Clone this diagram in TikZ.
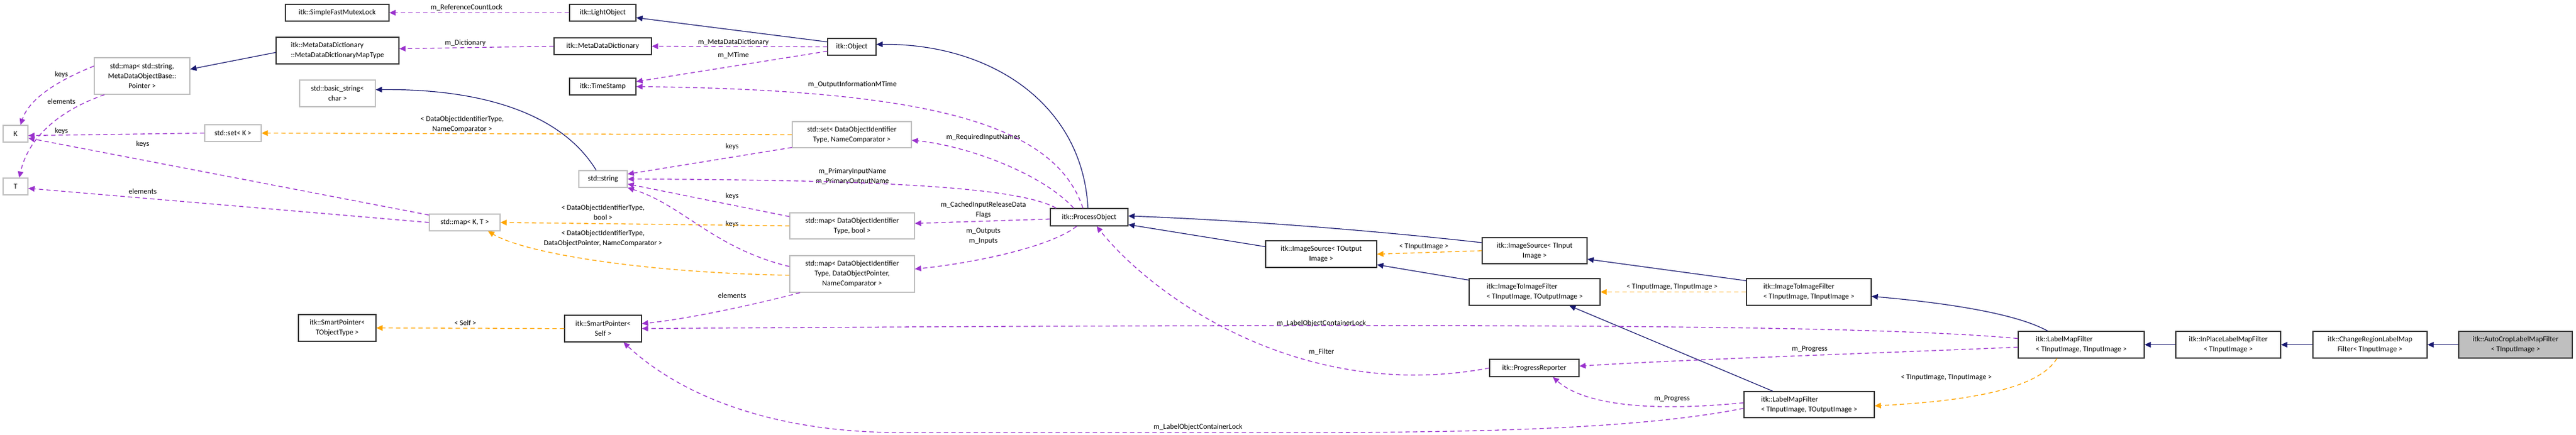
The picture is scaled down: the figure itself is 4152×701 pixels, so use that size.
\documentclass[tikz,border=0pt]{standalone}
\usepackage{fontspec}
\setmainfont{Carlito}
\usetikzlibrary{arrows.meta,calc}
\definecolor{inhc}{HTML}{191970}
\definecolor{usec}{HTML}{9A32CD}
\definecolor{tplc}{HTML}{FFA500}
\definecolor{grayb}{HTML}{BFBFBF}
\tikzset{
  x=1pt,y=-1pt,
  every node/.style={font=\fontsize{12}{16}\selectfont},
  box/.style={draw=black!80,line width=1.3pt,fill=white,inner sep=0pt,align=center},
  gbox/.style={draw=grayb,line width=1.3pt,fill=white,inner sep=0pt,align=center},
  lbl/.style={inner sep=0pt,align=center},
  inh/.style={draw=inhc,line width=1.2pt,-{Triangle[length=10pt,width=9pt]}},
  usep/.style={draw=usec,line width=1.3pt,dash pattern=on 7pt off 5pt,-{Triangle[length=10pt,width=9pt,fill=usec]}},
  tpl/.style={draw=tplc,line width=1.3pt,dash pattern=on 7pt off 5pt,-{Triangle[length=10pt,width=9pt,fill=tplc]}},
}
\begin{document}
\begin{tikzpicture}
\useasboundingbox (0,0) rectangle (4152,701);
% nodes
\node[box,minimum width=167,minimum height=27] (sfml) at (543.5,20.5) {itk::SimpleFastMutexLock};
\node[box,minimum width=198,minimum height=43,align=left] (maptype) at (544,81.5) {itk::MetaDataDictionary\\::MetaDataDictionaryMapType};
\node[gbox,minimum width=154,minimum height=59] (mapstr) at (229,122.5) {std::map< std::string,\\ MetaDataObjectBase::\\Pointer >};
\node[gbox,minimum width=122,minimum height=43] (bstr) at (544,150.5) {std::basic\_string<\\char >};
\node[gbox,minimum width=40,minimum height=27] (K) at (25,215.5) {K};
\node[gbox,minimum width=40,minimum height=27] (T) at (25,300.5) {T};
\node[gbox,minimum width=91,minimum height=27] (setK) at (375.5,214.5) {std::set< K >};
\node[box,minimum width=125,minimum height=43] (spT) at (543.5,528.5) {itk::SmartPointer<\\TObjectType >};
\node[box,minimum width=107,minimum height=27] (light) at (971.5,20.5) {itk::LightObject};
\node[box,minimum width=157,minimum height=27] (mdd) at (971.5,74.5) {itk::MetaDataDictionary};
\node[box,minimum width=107,minimum height=27] (ts) at (971.5,139.5) {itk::TimeStamp};
\node[box,minimum width=78,minimum height=27] (obj) at (1373,75.5) {itk::Object};
\node[gbox,minimum width=78,minimum height=27] (str) at (972,288.5) {std::string};
\node[gbox,minimum width=192,minimum height=42] (setDOI) at (1373,217) {std::set< DataObjectIdentifier\\Type, NameComparator >};
\node[gbox,minimum width=114,minimum height=27] (mapKT) at (749,358.5) {std::map< K, T >};
\node[gbox,minimum width=201,minimum height=42] (mapB) at (1373.5,364) {std::map< DataObjectIdentifier\\Type, bool >};
\node[gbox,minimum width=201,minimum height=59] (mapP) at (1373.5,441.5) {std::map< DataObjectIdentifier\\Type, DataObjectPointer,\\ NameComparator >};
\node[box,minimum width=124,minimum height=43] (spS) at (972,529.5) {itk::SmartPointer<\\Self >};
\node[box,minimum width=125,minimum height=28] (po) at (1755.5,350) {itk::ProcessObject};
\node[box,minimum width=179,minimum height=43] (isO) at (2129.5,409.5) {itk::ImageSource< TOutput\\Image >};
\node[box,minimum width=169,minimum height=42] (isI) at (2473.5,404) {itk::ImageSource< TInput\\Image >};
\node[box,minimum width=211,minimum height=43,align=left] (itiO) at (2473.5,470.5) {itk::ImageToImageFilter\\< TInputImage, TOutputImage >};
\node[box,minimum width=201,minimum height=43,align=left] (itiI) at (2915.5,470.5) {itk::ImageToImageFilter\\< TInputImage, TInputImage >};
\node[box,minimum width=144,minimum height=28] (pr) at (2473,593) {itk::ProgressReporter};
\node[box,minimum width=210,minimum height=42,align=left] (lmO) at (2916,652) {itk::LabelMapFilter\\< TInputImage, TOutputImage >};
\node[box,minimum width=203,minimum height=43,align=left] (lmI) at (3354.5,555.5) {itk::LabelMapFilter\\< TInputImage, TInputImage >};
\node[box,minimum width=169,minimum height=43] (ip) at (3591.5,555.5) {itk::InPlaceLabelMapFilter\\< TInputImage >};
\node[box,minimum width=184,minimum height=43] (cr) at (3820,555.5) {itk::ChangeRegionLabelMap\\Filter< TInputImage >};
\node[box,fill=grayb,minimum width=183,minimum height=43] (ac) at (4054.5,555.5) {itk::AutoCropLabelMapFilter\\< TInputImage >};
% labels
\node[lbl] (l1) at (752,12) {m\_ReferenceCountLock};
\node[lbl] (l2) at (750,69) {m\_Dictionary};
\node[lbl] (l3) at (1182,68) {m\_MetaDataDictionary};
\node[lbl] (l4) at (1182,89) {m\_MTime};
\node[lbl] (l5) at (1374,136) {m\_OutputInformationMTime};
\node[lbl] (l6) at (1585,221) {m\_RequiredInputNames};
\node[lbl] (l7) at (99,120) {keys};
\node[lbl] (l8) at (99,163) {elements};
\node[lbl] (l9) at (99,211) {keys};
\node[lbl] (l10) at (230,232) {keys};
\node[lbl] (l11) at (230,308) {elements};
\node[lbl] (l12) at (745,200) {< DataObjectIdentifierType,\\NameComparator >};
\node[lbl] (l13) at (1180,236) {keys};
\node[lbl] (l14) at (1374,284) {m\_PrimaryInputName\\m\_PrimaryOutputName};
\node[lbl] (l15) at (1180,316) {keys};
\node[lbl] (l16) at (972,342) {< DataObjectIdentifierType,\\bool >};
\node[lbl] (l17) at (1180,361) {keys};
\node[lbl] (l18) at (972,384) {< DataObjectIdentifierType,\\DataObjectPointer, NameComparator >};
\node[lbl] (l19) at (1180,476) {elements};
\node[lbl] (l20) at (750,520) {< Self >};
\node[lbl] (l21) at (1585,338) {m\_CachedInputReleaseData\\Flags};
\node[lbl] (l22) at (1585,381) {m\_Outputs\\m\_Inputs};
\node[lbl] (l23) at (2295,398) {< TInputImage >};
\node[lbl] (l24) at (2695,463) {< TInputImage, TInputImage >};
\node[lbl] (l25) at (2130,521) {m\_LabelObjectContainerLock};
\node[lbl] (l26) at (2130,567) {m\_Filter};
\node[lbl] (l27) at (2917,563) {m\_Progress};
\node[lbl] (l28) at (2695,643) {m\_Progress};
\node[lbl] (l29) at (1931,688) {m\_LabelObjectContainerLock};
\node[lbl] (l30) at (3137,609) {< TInputImage, TInputImage >};
% edges
\draw[usep] (light.west) -- (sfml.east);
\draw[usep] (mdd.west) -- ($(maptype.east)+(0,-3)$);
\draw[inh] ($(maptype.west)+(0,3)$) -- ($(mapstr.east)+(0,-11)$);
\draw[usep] ($(mapstr.west)+(0,-16)$) .. controls (80,135) and (45,165) .. ($(K.north)+(8,0)$);
\draw[usep] ($(mapstr.south west)+(17,0)$) .. controls (90,180) and (45,225) .. ($(T.north)+(6,0)$);
\draw[usep] (setK.west) -- ($(K.east)+(0,3)$);
\draw[usep] ($(mapKT.west)+(0,-12)$) -- ($(K.east)+(0,7)$);
\draw[usep] (mapKT.west) -- ($(T.east)+(0,3)$);
\draw[inh] ($(obj.west)+(0,-8)$) -- ($(light.east)+(0,8)$);
\draw[usep] (obj.west) -- (mdd.east);
\draw[usep] ($(obj.west)+(0,7)$) -- ($(ts.east)+(0,-8)$);
\draw[inh] ($(str.north)+(-11,0)$) .. controls (900,175) and (760,143) .. ($(bstr.east)+(0,-6)$);
\draw[tpl] (setDOI.west) -- (setK.east);
\draw[usep] ($(setDOI.south west)+(0,-1)$) -- ($(str.east)+(0,-8)$);
\draw[usep] ($(mapB.west)+(0,-15)$) -- ($(str.east)+(0,8)$);
\draw[tpl] (mapB.west) -- (mapKT.east);
\draw[usep] ($(mapP.west)+(0,-12)$) .. controls (1150,400) and (1100,330) .. ($(str.south east)+(0,0)$);
\draw[tpl] ($(mapP.west)+(0,2)$) .. controls (1050,440) and (850,410) .. ($(mapKT.south east)+(-20,0)$);
\draw[usep] ($(mapP.south west)+(17,0)$) .. controls (1200,495) and (1100,515) .. ($(spS.east)+(0,-8)$);
\draw[tpl] (spS.west) -- (spT.east);
\draw[inh] ($(po.north)+(-2,0)$) .. controls (1745,170) and (1600,70) .. ($(obj.east)+(0,-4)$);
\draw[usep] ($(po.north)+(-10,0)$) .. controls (1700,200) and (1500,145) .. (ts.east);
\draw[usep] ($(po.north)+(-25,0)$) .. controls (1680,280) and (1560,235) .. ($(setDOI.east)+(0,9)$);
\draw[usep] ($(po.north west)+(10,0)$) .. controls (1640,300) and (1400,290) .. (str.east);
\draw[usep] ($(po.west)+(0,3)$) -- ($(mapB.east)+(0,-4)$);
\draw[usep] ($(po.south)+(-20,0)$) .. controls (1690,400) and (1560,425) .. ($(mapP.east)+(0,-8)$);
\draw[usep] (pr.west) .. controls (2100,650) and (1860,480) .. ($(po.south)+(12,0)$);
\draw[inh] ($(isO.west)+(0,-12)$) -- ($(po.east)+(0,12)$);
\draw[inh] ($(isI.west)+(0,-13)$) .. controls (2200,370) and (2000,355) .. ($(po.east)+(0,-2)$);
\draw[tpl] (isI.west) -- (isO.east);
\draw[inh] ($(itiO.north west)+(0,3)$) -- ($(isO.south east)+(0,-5)$);
\draw[inh] ($(itiI.north west)+(0,4)$) -- ($(isI.south east)+(0,-8)$);
\draw[tpl] (itiI.west) -- (itiO.east);
\draw[inh] ($(lmO.north west)+(47,0)$) -- ($(itiO.south)+(56,0)$);
\draw[inh] ($(lmI.north west)+(48,0)$) .. controls (3240,500) and (3100,485) .. ($(itiI.east)+(0,7)$);
\draw[tpl] ($(lmI.south west)+(63,0)$) .. controls (3290,620) and (3200,645) .. ($(lmO.east)+(0,2)$);
\draw[usep] ($(lmI.west)+(0,-10)$) .. controls (3000,522) and (2300,521) .. (spS.east);
\draw[usep] ($(lmI.west)+(0,4)$) .. controls (3000,570) and (2700,580) .. ($(pr.east)+(0,-3)$);
\draw[usep] ($(lmO.west)+(0,-3)$) .. controls (2650,665) and (2550,650) .. ($(pr.south)+(30,0)$);
\draw[usep] ($(lmO.west)+(0,6)$) .. controls (2650,690) and (2400,697) .. (2100,697) -- (1450,697) .. controls (1250,697) and (1100,640) .. ($(spS.south)+(33,0)$);
\draw[inh] (ip.west) -- (lmI.east);
\draw[inh] (cr.west) -- (ip.east);
\draw[inh] (ac.west) -- (cr.east);
\end{tikzpicture}
\end{document}
